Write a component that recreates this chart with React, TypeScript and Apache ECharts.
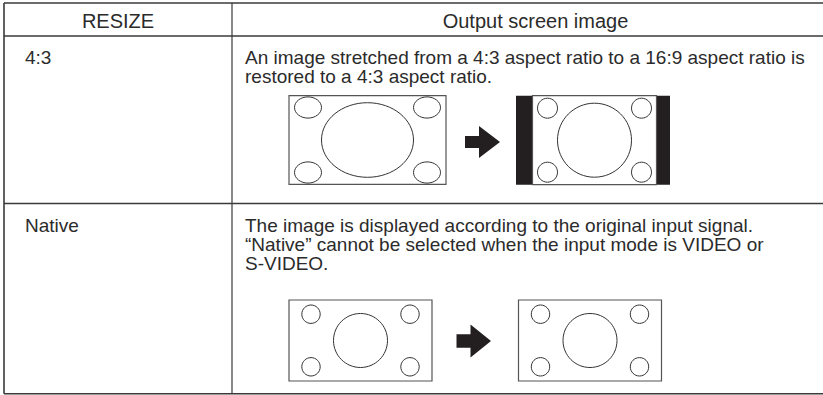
import React, { useEffect, useRef } from "react";
import * as echarts from "echarts";

// ---- Table content ----
const HEADERS = ["RESIZE", "Output screen image"];
const MODES = ["4:3", "Native"];
const DESCRIPTIONS: string[][] = [
  [
    "An image stretched from a 4:3 aspect ratio to a 16:9 aspect ratio is",
    "restored to a 4:3 aspect ratio.",
  ],
  [
    "The image is displayed according to the original input signal.",
    "\u201CNative\u201D cannot be selected when the input mode is VIDEO or",
    "S-VIDEO.",
  ],
];

// ---- Layout ----
const W = 823;
const H = 395;
const LEFT = 4;
const RIGHT = 839;
const TOP = 3;
const BOTTOM = 393.8;
const COL = 232;
const HEAD_BOTTOM = 36;
const ROW_DIV = 203.5;
const ROW_TOPS = [HEAD_BOTTOM, ROW_DIV];
const FONT = '"Liberation Sans", Arial, Helvetica, sans-serif';
const INK = "#231f20";
const TEXT_INK = "#2b2b2b";
const LINE = "#3a3a3a";

function text(x: number, y: number, str: string, size: number, align = "left") {
  return {
    type: "text",
    x,
    y,
    silent: true,
    style: {
      text: str,
      fill: TEXT_INK,
      font: `${size}px ${FONT}`,
      fontSize: size,
      fontFamily: FONT,
      align,
      textAlign: align,
      verticalAlign: "middle",
      textVerticalAlign: "middle",
    },
  };
}

function line(x1: number, y1: number, x2: number, y2: number, w = 1.2, c = LINE) {
  return {
    type: "line",
    silent: true,
    shape: { x1, y1, x2, y2 },
    style: { stroke: c, lineWidth: w },
  };
}

function arrow(x0: number, cy: number, shaftLen: number, headLen: number, shaftH: number, headH: number) {
  const xs = x0 + shaftLen;
  return {
    type: "polygon",
    silent: true,
    shape: {
      points: [
        [x0, cy - shaftH / 2],
        [xs, cy - shaftH / 2],
        [xs, cy - headH / 2],
        [xs + headLen, cy],
        [xs, cy + headH / 2],
        [xs, cy + shaftH / 2],
        [x0, cy + shaftH / 2],
      ],
    },
    style: { fill: INK },
  };
}

// screen with four corner shapes and one centre shape
function screen(
  cx: number,
  cy: number,
  w: number,
  h: number,
  smallRx: number,
  smallRy: number,
  bigRx: number,
  bigRy: number,
  cornerDx: number,
  cornerDy: number
) {
  const els: any[] = [];
  els.push({
    type: "rect",
    silent: true,
    shape: { x: cx - w / 2, y: cy - h / 2, width: w, height: h },
    style: { fill: "#fff", stroke: "#555", lineWidth: 1.2 },
  });
  const corners = [
    [-1, -1],
    [1, -1],
    [-1, 1],
    [1, 1],
  ];
  corners.forEach(([sx, sy]) => {
    els.push({
      type: "ellipse",
      silent: true,
      shape: { cx: cx + sx * cornerDx, cy: cy + sy * cornerDy, rx: smallRx, ry: smallRy },
      style: { fill: "#fff", stroke: "#333", lineWidth: 1 },
    });
  });
  els.push({
    type: "ellipse",
    silent: true,
    shape: { cx, cy, rx: bigRx, ry: bigRy },
    style: { fill: "#fff", stroke: "#333", lineWidth: 1 },
  });
  return els;
}

export default function App() {
  const ref = useRef<HTMLDivElement>(null);

  useEffect(() => {
    document.body.style.margin = "0";
    const chart = echarts.init(ref.current!, null, { renderer: "svg" });
    const g: any[] = [];

    // background
    g.push({ type: "rect", silent: true, shape: { x: 0, y: 0, width: W, height: H }, style: { fill: "#fff" } });

    // table lines
    g.push(line(LEFT, TOP, RIGHT, TOP, 1.6));
    g.push(line(LEFT, BOTTOM, RIGHT, BOTTOM, 1.6));
    g.push(line(LEFT, TOP, LEFT, BOTTOM, 1.6));
    g.push(line(COL, TOP, COL, BOTTOM, 1.2));
    g.push(line(LEFT, HEAD_BOTTOM, RIGHT, HEAD_BOTTOM, 1.4));
    g.push(line(LEFT, ROW_DIV, RIGHT, ROW_DIV, 1.4));

    // headers
    g.push(text((LEFT + COL) / 2, 21, HEADERS[0], 20, "center"));
    g.push(text((COL + RIGHT) / 2, 21, HEADERS[1], 20, "center"));

    // rows
    MODES.forEach((m, i) => {
      const top = ROW_TOPS[i];
      g.push(text(25, top + 21.5, m, 19));
      DESCRIPTIONS[i].forEach((ln, j) => {
        g.push(text(245, top + 21.5 + j * 19, ln, 19));
      });
    });

    // Row 1 illustrations: stretched 16:9 -> 4:3 with side bars
    g.push(...screen(367.5, 140, 157, 88.6, 13.5, 10.6, 46, 37.3, 59.5, 32.5));
    g.push(arrow(465, 142, 14, 21, 12, 32));
    g.push({
      type: "rect",
      silent: true,
      shape: { x: 516, y: 95.7, width: 154, height: 89 },
      style: { fill: INK },
    });
    g.push(...screen(594.5, 140.2, 124, 89, 10, 10, 37, 37, 47, 32));

    // Row 2 illustrations: native
    g.push(...screen(360.5, 340.5, 143, 81, 9.2, 9.2, 27, 27, 49.5, 26.3));
    g.push(arrow(456.5, 341, 14, 20.5, 13.5, 33));
    g.push(...screen(590, 340.5, 143, 81, 9.2, 9.2, 27, 27, 49.5, 26.3));

    chart.setOption({
      animation: false,
      backgroundColor: "#fff",
      graphic: { elements: g },
    });
    return () => chart.dispose();
  }, []);

  return <div ref={ref} style={{ width: W, height: H }} />;
}
